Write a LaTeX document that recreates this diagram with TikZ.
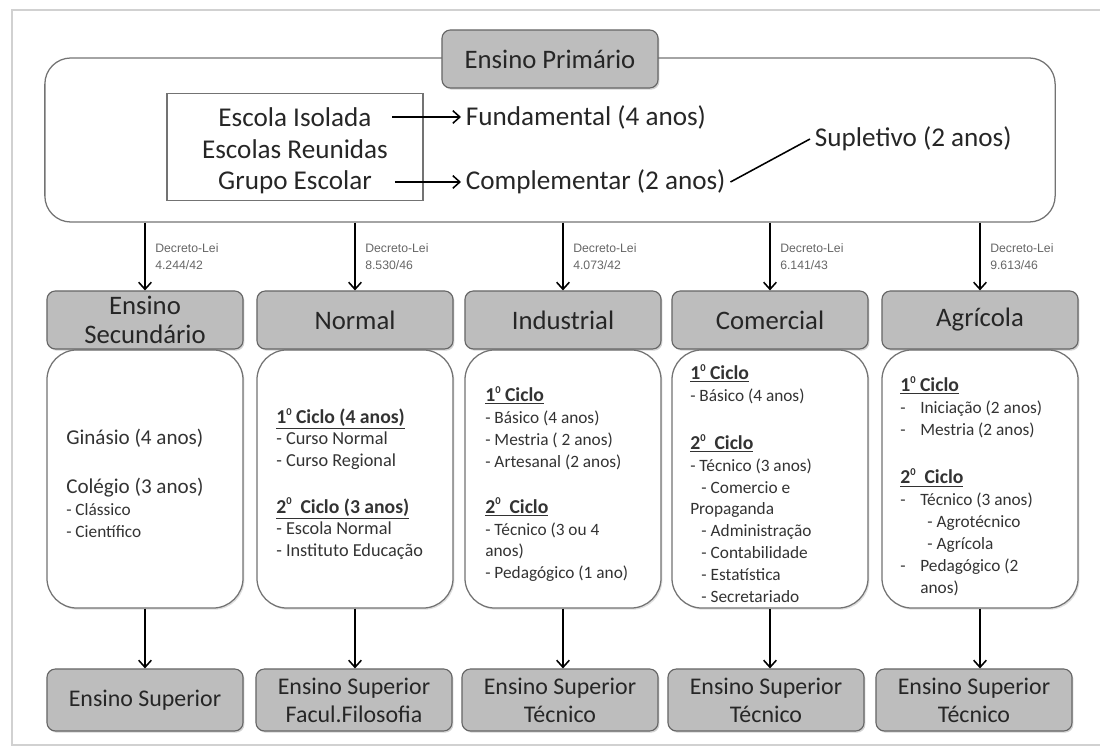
\documentclass[tikz,border=0pt]{standalone}
\usepackage{fontspec}
\setmainfont{Carlito}
\newfontfamily\decfont{Liberation Sans}
\usetikzlibrary{arrows.meta,shadows}

\newcommand{\cic}[1]{{\fontsize{14}{15.6}\selectfont\underline{\textbf{#1}}}}
\newcommand{\ord}[1]{#1\raisebox{0.85ex}{\fontsize{7.5}{8}\selectfont 0}}
\newcommand{\sgn}{\makebox[0.5cm][l]{-}}

\tikzset{
	hdr/.style={draw=black!60, fill=black!26, rounded corners=6pt, line width=0.8pt,
		minimum width=4.9cm, minimum height=1.45cm, align=center, text=black!85,
		font=\fontsize{19}{21}\selectfont,
		drop shadow={shadow xshift=1pt, shadow yshift=-1.2pt, opacity=0.35}},
	bodybox/.style={draw=black!55, rounded corners=0.75cm, line width=0.9pt,
		minimum width=4.9cm, minimum height=6.45cm, fill=white,
		drop shadow={shadow xshift=1pt, shadow yshift=-1.2pt, opacity=0.25}},
	supbox/.style={hdr, minimum height=1.55cm, font=\fontsize{17}{20}\selectfont},
	txt/.style={anchor=north west, align=left, inner sep=0pt, text=black!80,
		font=\fontsize{12.3}{15.6}\selectfont},
	big/.style={text=black!85, font=\fontsize{19.3}{22}\selectfont},
	dn/.style={-{Straight Barb[length=5pt,width=9pt]}, line width=1.1pt},
	decr/.style={right, xshift=0.12cm, align=left, text=black!60,
		font=\decfont\fontsize{8.7}{12.5}\selectfont},
}

\begin{document}
\begin{tikzpicture}[x=0.025cm, y=-0.025cm]
	\useasboundingbox (0,0) rectangle (1100,753);
	\draw[black!18, line width=1.5pt] (1100,10) -- (12,10) -- (12,745) -- (1100,745);

	% ensino primario
	\node[draw=black!55, line width=0.9pt, rounded corners=0.65cm, minimum width=25.25cm,
		minimum height=4.1cm] (prim) at (550,140) {};
	\node[hdr, minimum width=5.4cm] (ep) at (550,59) {Ensino Primário};
	\node[draw=black!55, line width=0.8pt, minimum width=6.4cm, minimum height=2.68cm] (esc) at (295,147) {};
	\node[big] (isol) at (295,117) {Escola Isolada};
	\node[big] (reun) at (295,149) {Escolas Reunidas};
	\node[big] (grupo) at (295,182) {Grupo Escolar};
	\node[big, anchor=west] (fund) at (461,117) {Fundamental (4 anos)};
	\node[big, anchor=west] (comp) at (461,182) {Complementar (2 anos)};
	\node[big, anchor=west] (supl) at (810,139) {Supletivo (2 anos)};
	\draw[dn, shorten <=0.4cm] (isol) -- (fund);
	\draw[dn, shorten <=0.45cm] (grupo) -- (comp);
	\draw[line width=1.1pt] (comp.east) -- (supl.west);

	\foreach \x/\t/\d [count=\i] in {145/{Ensino\\Secundário}/{4.244/42}, 355/Normal/{8.530/46},
		563/Industrial/{4.073/42}, 770/Comercial/{6.141/43}, 980/Agrícola/{9.613/46}}{
		\node[bodybox] (b\i) at (\x,479) {};
		\node[hdr] (h\i) at (\x,320) {\t};
		\draw[dn] (h\i.north |- prim.south) -- node[decr] (d\i) {Decreto-Lei\\\d} (h\i.north);
	}

	\node[txt, font=\fontsize{15}{17}\selectfont] (gin) at (66,429) {Ginásio (4 anos)\\[0.62cm]Colégio (3 anos)};
	\node[txt] (cls) at (66,503) {- Clássico\\- Científico};
	\node[txt, font=\fontsize{13}{15.4}\selectfont] (nor) at (276,408) {\cic{\ord{1} Ciclo (4 anos)}\\- Curso Normal\\- Curso Regional\\[0.62cm]
		\cic{\ord{2}\ \ Ciclo (3 anos)}\\- Escola Normal\\- Instituto Educação};
	\node[txt] (ind) at (485,386) {\cic{\ord{1} Ciclo}\\- Básico (4 anos)\\- Mestria ( 2 anos)\\- Artesanal (2 anos)\\[0.6cm]
		\cic{\ord{2}\ \ Ciclo}\\- Técnico (3 ou 4\\anos)\\- Pedagógico (1 ano)};
	\node[txt] (com) at (690,364) {\cic{\ord{1} Ciclo}\\- Básico (4 anos)\\[0.65cm]
		\cic{\ord{2}\ \ Ciclo}\\- Técnico (3 anos)\\\hspace{0.28cm}- Comercio e\\Propaganda\\
		\hspace{0.28cm}- Administração\\\hspace{0.28cm}- Contabilidade\\\hspace{0.28cm}- Estatística\\\hspace{0.28cm}- Secretariado};
	\node[txt] (agr) at (900,376) {\cic{\ord{1} Ciclo}\\\sgn Iniciação (2 anos)\\\sgn Mestria (2 anos)\\[0.67cm]
		\cic{\ord{2}\ \ Ciclo}\\\sgn Técnico (3 anos)\\\hspace{0.68cm}- Agrotécnico\\\hspace{0.68cm}- Agrícola\\
		\sgn Pedagógico (2\\\hspace{0.5cm}anos)};

	% ensino superior
	\foreach \x/\t [count=\i] in {145/{Ensino Superior}, 354/{Ensino Superior\\Facul.Filosofia},
		560/{Ensino Superior\\Técnico}, 766/{Ensino Superior\\Técnico}, 974/{Ensino Superior\\Técnico}}{
		\node[supbox] (s\i) at (\x,700) {\t};
		\draw[dn] (b\i.south) -- (b\i.south |- s\i.north);
	}
\end{tikzpicture}
\end{document}
